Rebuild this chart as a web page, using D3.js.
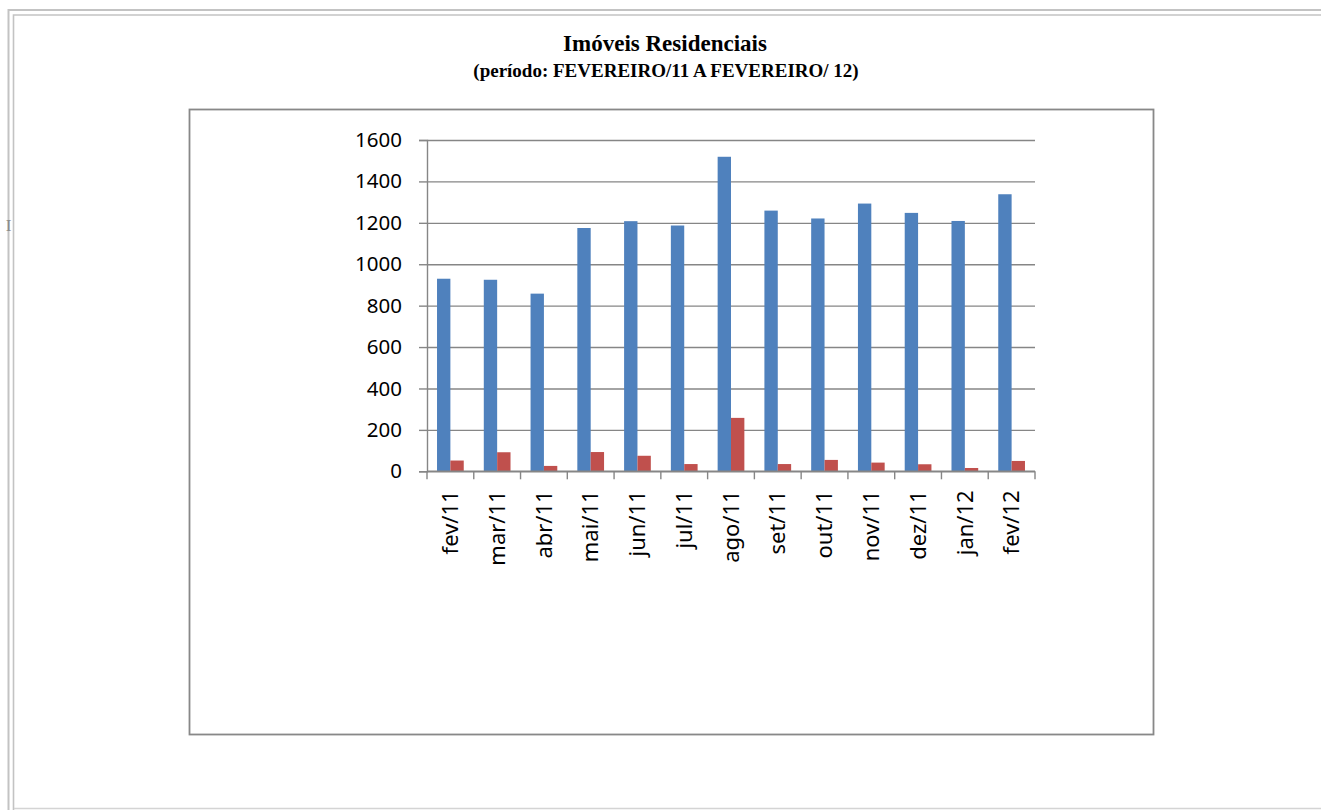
<!DOCTYPE html>
<html lang="pt">
<head>
  <meta charset="UTF-8">
  <title>Imóveis Residenciais</title>
  <script src="https://d3js.org/d3.v7.min.js"></script>
  <style>
    body { margin: 0; background: #ffffff; }
    svg { display: block; }
  </style>
</head>
<body>
  <div id="chart"></div>
  <script>
    // Data
    const categories = ["fev/11", "mar/11", "abr/11", "mai/11", "jun/11", "jul/11", "ago/11",
                        "set/11", "out/11", "nov/11", "dez/11", "jan/12", "fev/12"];
    const serie1 = [930, 925, 858, 1175, 1208, 1187, 1519, 1259, 1221, 1293, 1248, 1209, 1338];
    const serie2 = [52, 92, 26, 93, 75, 35, 258, 35, 55, 42, 34, 16, 50];
    const yTicks = [0, 200, 400, 600, 800, 1000, 1200, 1400, 1600];
    const seriesNames = ["s1", "s2"];
    const colors = { s1: "#4f81bd", s2: "#c0504d" };

    const W = 1321, H = 810;
    const plot = { left: 427, right: 1035, top: 140, bottom: 471.3 };

    const svg = d3.select("#chart").append("svg")
      .attr("width", W)
      .attr("height", H);

    // page frame (double line on top and left)
    const frame = svg.append("g").attr("fill", "none");
    frame.append("path").attr("d", `M8.5,${H} V10 H${W}`).attr("stroke", "#c3c3c3").attr("stroke-width", 2);
    frame.append("path").attr("d", `M13.5,${H} V15 H${W}`).attr("stroke", "#c3c3c3").attr("stroke-width", 1.6);
    frame.append("line").attr("x1", 14).attr("x2", W).attr("y1", 808.5).attr("y2", 808.5)
      .attr("stroke", "#d4d4d4").attr("stroke-width", 1.5);

    // small cursor mark on the left edge
    svg.append("text")
      .attr("x", 8.5).attr("y", 231)
      .attr("text-anchor", "middle")
      .attr("font-family", "Liberation Serif")
      .attr("font-size", 17)
      .attr("fill", "#8a8a8a")
      .text("I");

    // titles
    svg.append("text")
      .attr("x", 665).attr("y", 51)
      .attr("text-anchor", "middle")
      .attr("font-family", "Liberation Serif, Times New Roman, serif")
      .attr("font-weight", "bold")
      .attr("font-size", 23)
      .text("Imóveis Residenciais");
    svg.append("text")
      .attr("x", 666).attr("y", 77)
      .attr("text-anchor", "middle")
      .attr("font-family", "Liberation Serif, Times New Roman, serif")
      .attr("font-weight", "bold")
      .attr("font-size", 19)
      .text("(período: FEVEREIRO/11 A FEVEREIRO/ 12)");

    // chart area border
    svg.append("rect")
      .attr("x", 189.5).attr("y", 109.5)
      .attr("width", 964).attr("height", 625)
      .attr("fill", "none")
      .attr("stroke", "#888888")
      .attr("stroke-width", 1.8);

    const x = d3.scaleBand()
      .domain(categories)
      .range([plot.left, plot.right])
      .padding(0);

    const xs = d3.scaleBand()
      .domain(seriesNames)
      .range([0, x.bandwidth()])
      .paddingInner(0)
      .paddingOuter(0.75);

    const y = d3.scaleLinear()
      .domain([0, 1600])
      .range([plot.bottom, plot.top]);

    // gridlines + y axis
    const yAxis = svg.append("g")
      .attr("transform", `translate(${plot.left},0)`)
      .call(d3.axisLeft(y).tickValues(yTicks).tickSize(8).tickPadding(17).tickFormat(d3.format("d")));
    yAxis.select(".domain").attr("stroke", "#868686").attr("stroke-width", 1.4);
    yAxis.selectAll(".tick line").attr("stroke", "#868686").attr("stroke-width", 1.4);
    yAxis.selectAll(".tick").append("line")
      .attr("x1", 0).attr("x2", plot.right - plot.left)
      .attr("stroke", "#868686").attr("stroke-width", 1.4);
    yAxis.selectAll(".tick text")
      .attr("font-family", "Noto Sans, sans-serif")
      .attr("font-size", 20.5)
      .attr("fill", "#000");

    // bars
    const rows = categories.map((c, i) => ({ cat: c, s1: serie1[i], s2: serie2[i] }));
    const groups = svg.append("g").selectAll("g")
      .data(rows)
      .join("g")
      .attr("transform", d => `translate(${x(d.cat)},0)`);
    groups.selectAll("rect")
      .data(d => seriesNames.map(k => ({ key: k, value: d[k] })))
      .join("rect")
      .attr("x", d => xs(d.key))
      .attr("y", d => y(d.value))
      .attr("width", xs.bandwidth())
      .attr("height", d => y(0) - y(d.value))
      .attr("fill", d => colors[d.key]);

    // x axis with ticks between categories
    const xAxis = svg.append("g")
      .attr("transform", `translate(0,${plot.bottom})`);
    xAxis.append("line")
      .attr("x1", plot.left).attr("x2", plot.right)
      .attr("stroke", "#868686").attr("stroke-width", 1.4);
    const boundaries = categories.map(c => x(c)).concat([plot.right]);
    xAxis.selectAll("line.tk")
      .data(boundaries)
      .join("line")
      .attr("class", "tk")
      .attr("x1", d => d).attr("x2", d => d)
      .attr("y1", 0).attr("y2", 8)
      .attr("stroke", "#868686").attr("stroke-width", 1.4);
    xAxis.selectAll("text")
      .data(categories)
      .join("text")
      .attr("transform", d => `translate(${x(d) + x.bandwidth() / 2},19) rotate(-90)`)
      .attr("text-anchor", "end")
      .attr("dy", "0.35em")
      .attr("font-family", "Noto Sans, sans-serif")
      .attr("font-size", 22)
      .attr("fill", "#000")
      .text(d => d);
  </script>
</body>
</html>
